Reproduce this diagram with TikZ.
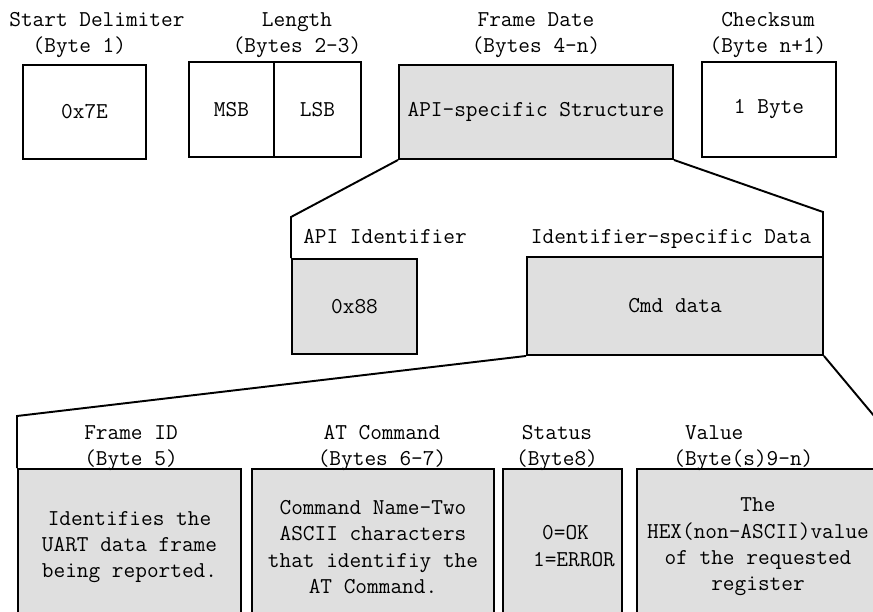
\documentclass[tikz,border=0pt]{standalone}
\usetikzlibrary{calc}
\tikzset{
  fld/.style={draw, line width=1.1pt, inner sep=0pt, align=center},
  shd/.style={fld, fill=gray!25},
  lbl/.style={inner sep=0pt, align=center},
  conn/.style={line width=1.1pt}
}

\begin{document}
\begin{tikzpicture}[x=0.02cm, y=-0.02cm, font=\fontsize{12.9}{15}\selectfont\ttfamily]
            \clip (0,0) rectangle (873,612);

            \node[fld, minimum width=2.46cm, minimum height=1.88cm] (sd) at (84.5,112) {0x7E};
            \node[fld, minimum width=1.70cm, minimum height=1.90cm] (msb) at (231.5,109.5) {MSB};
            \node[fld, minimum width=1.74cm, minimum height=1.90cm] (lsb) at (317.5,109.5) {LSB};
            \node[shd, minimum width=5.48cm, minimum height=1.88cm] (api) at (536,112) {API-specific Structure};
            \node[fld, minimum width=2.68cm, minimum height=1.90cm] (cks) at (769,109.5) {1 Byte};

            \node[lbl, align=left, anchor=west] (sdl) at (9,35) {Start Delimiter\\\hphantom{xx}(Byte 1)};
            \node[lbl] (lenl) at (297,35) {Length\\(Bytes 2-3)};
            \node[lbl] (fdl) at (536,35) {Frame Date\\(Bytes 4-n)};
            \node[lbl] (ckl) at (768,35) {Checksum\\(Byte n+1)};

            \node[shd, minimum width=2.50cm, minimum height=1.90cm] (aid) at (354.5,306.5) {0x88};
            \node[shd, minimum width=5.92cm, minimum height=1.96cm] (cmd) at (675,306) {Cmd data};
            \node[lbl, anchor=base] (aidl) at (385,243) {API Identifier};
            \node[lbl, anchor=base] (cmdl) at (671,243) {Identifier-specific Data};

            \foreach \n/\x/\w/\t in {fid/129.5/4.46/{Identifies the\\UART data frame\\being reported.},
                                     at/373/4.84/{Command Name-Two\\ASCII characters\\that identifiy the\\AT Command.},
                                     st/562.5/2.38/{},
                                     val/758/4.84/{The\\HEX(non-ASCII)value\\of the requested\\register}}{
                \node[shd, minimum width=\w cm, minimum height=3.12cm] (\n) at (\x,547) {\t};
            }
            \node[lbl, align=left] (stt) at (574,546) {\hspace*{.4em}0=OK\\1=ERROR};

            \node[lbl] (fidl) at (131,448) {Frame ID\\(Byte 5)};
            \node[lbl] (atl) at (382,448) {AT Command\\(Bytes 6-7)};
            \node[lbl] (stl) at (557,448) {Status\\(Byte8)};
            \node[lbl, align=left, anchor=west] (vall) at (673,448) {\hphantom{x}Value\\(Byte(s)9-n)};

            \coordinate (tl) at (291,217);
            \coordinate (tr) at (823,212);
            \coordinate (bl) at (17,416);
            \coordinate (br) at (880,423);
            \draw[conn] (api.south west) -- (tl) -- (tl |- aid.north);
            \draw[conn] (api.south east) -- (tr) -- (tr |- cmd.north);
            \draw[conn] (cmd.south west) -- (bl) -- (bl |- fid.north);
            \draw[conn] (cmd.south east) -- (br) -- (br |- val.north);
\end{tikzpicture}
\end{document}
